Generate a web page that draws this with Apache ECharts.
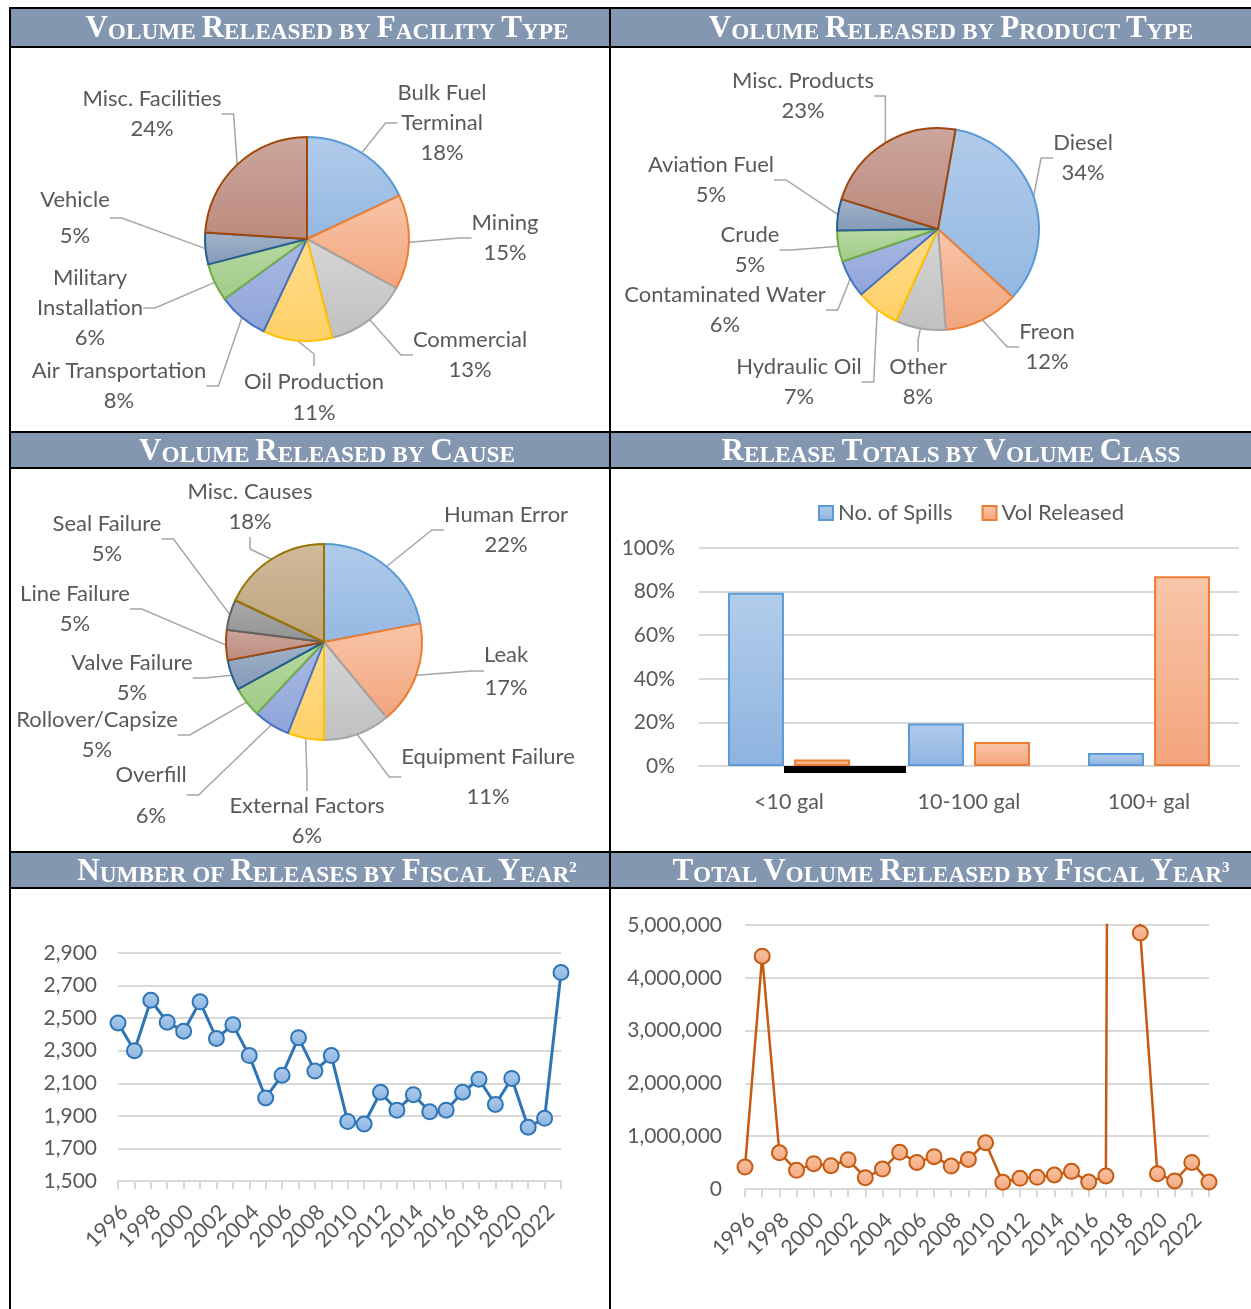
<!DOCTYPE html>
<html>
<head>
<meta charset="utf-8">
<script src="https://cdn.jsdelivr.net/npm/echarts@6/dist/echarts.min.js"></script>
<style>
  html, body { margin: 0; padding: 0; background: #fff; }
  #main { width: 1251px; height: 1309px; }
</style>
</head>
<body>
<div id="main"></div>
<script>
// ---- data ----
const facilityNames = ['Bulk Fuel Terminal', 'Mining', 'Commercial', 'Oil Production', 'Air Transportation', 'Military Installation', 'Vehicle', 'Misc. Facilities'];
const facilityShares = [18, 15, 13, 11, 8, 6, 5, 24];

const productNames = ['Diesel', 'Freon', 'Other', 'Hydraulic Oil', 'Contaminated Water', 'Crude', 'Aviation Fuel', 'Misc. Products'];
const productShares = [34, 12, 8, 7, 6, 5, 5, 23];

const causeNames = ['Human Error', 'Leak', 'Equipment Failure', 'External Factors', 'Overfill', 'Rollover/Capsize', 'Valve Failure', 'Line Failure', 'Seal Failure', 'Misc. Causes'];
const causeShares = [22, 17, 11, 6, 6, 5, 5, 5, 5, 18];

const volumeClasses = ['<10 gal', '10-100 gal', '100+ gal'];
const spillShare = [79.5, 19.5, 6];
const volumeShare = [3, 11, 87];

const fiscalYears = ['1996', '1997', '1998', '1999', '2000', '2001', '2002', '2003', '2004', '2005', '2006', '2007', '2008', '2009',
  '2010', '2011', '2012', '2013', '2014', '2015', '2016', '2017', '2018', '2019', '2020', '2021', '2022', '2023'];
const releaseCounts = [2470, 2300, 2610, 2475, 2420, 2600, 2375, 2460, 2270, 2010, 2150, 2380, 2175, 2270,
  1865, 1850, 2045, 1935, 2030, 1925, 1935, 2045, 2125, 1970, 2130, 1830, 1885, 2780];
const volumeReleased = [416000, 4410000, 687000, 353000, 479000, 441000, 555000, 214000, 378000, 694000, 504000, 612000, 435000, 561000,
  876000, 126000, 202000, 221000, 265000, 334000, 132000, 246000, 80000000, 4850000, 290000, 151000, 504000, 132000];

const headers = [
  ['Volume Released by Facility Type', ''],
  ['Volume Released by Product Type', ''],
  ['Volume Released by Cause', ''],
  ['Release Totals by Volume Class', ''],
  ['Number of Releases by Fiscal Year', '2'],
  ['Total Volume Released by Fiscal Year', '3']
];

// ---- layout (pixels) ----
const headerAt = [[327, 44], [951, 44], [327, 467], [951, 467], [327, 887], [951, 887]];
const facilityLabelAt = [[442, 123], [505, 238], [470, 355], [314, 397], [119, 386], [90, 308], [75, 218], [152, 114]];
const productLabelAt = [[1083, 158], [1047, 347], [918, 382], [799, 382], [725, 310], [750, 250], [711, 180], [803, 96]];
const causeLabelAt = [[506, 530], [506, 671], [488, 777], [307, 821], [151, 795], [97, 735], [132, 678], [75, 609], [107, 539], [250, 507]];
const wrapNames = { 'Bulk Fuel Terminal': 'Bulk Fuel\nTerminal', 'Military Installation': 'Military\nInstallation' };
// a few labels sit with a wider gap between name and percent
const labelLineHeight = { 'Vehicle': 36, 'Equipment Failure': 40, 'Overfill': 41, 'Leak': 33, 'Oil Production': 31 };

const FONT = 'Lato';
const TXT = '#595959';
const GRID = '#D9D9D9';

// office palette: border, gradient top, gradient bottom
const pal = [
  ['#5B9BD5', '#B1CBEA', '#94B8E2'],
  ['#ED7D31', '#F8C5A8', '#F2A57E'],
  ['#A5A5A5', '#D6D6D6', '#C0C0C0'],
  ['#FFC000', '#FFDC8C', '#FFD066'],
  ['#4472C4', '#AAB9E1', '#8FA5DA'],
  ['#70AD47', '#B7D8A1', '#A0CB88'],
  ['#255E91', '#A2B4CA', '#8599B6'],
  ['#9E480E', '#CCA69D', '#BC8A7D'],
  ['#636363', '#AAAAAA', '#939393'],
  ['#997300', '#CFBA9A', '#C0A57E']
];
const grad = (a, b) => new echarts.graphic.LinearGradient(0, 0, 0, 1, [{ offset: 0, color: a }, { offset: 1, color: b }]);

function pieSeries(names, shares, center, radius, startAngle, labelAt) {
  return {
    type: 'pie',
    center: center,
    radius: radius,
    startAngle: startAngle,
    avoidLabelOverlap: false,
    silent: true,
    data: names.map((n, i) => ({
      name: n,
      value: shares[i],
      itemStyle: { color: grad(pal[i][1], pal[i][2]), borderColor: pal[i][0], borderWidth: 2 },
      label: { lineHeight: labelLineHeight[n] || 30 }
    })),
    label: {
      show: true, position: 'outside', color: TXT, fontFamily: FONT, fontSize: 22, lineHeight: 30,
      overflow: 'none', edgeDistance: 0,
      formatter: p => (wrapNames[p.name] || p.name) + '\n' + Math.round(p.percent) + '%'
    },
    labelLine: { show: true, length: 10, length2: 12, lineStyle: { color: '#A6A6A6', width: 1.5 } },
    labelLayout: p => ({ x: labelAt[p.dataIndex][0], y: labelAt[p.dataIndex][1], align: 'center', verticalAlign: 'middle' })
  };
}

function capsRich(str, sup) {
  let out = '';
  str.split(' ').forEach((w, i) => {
    if (i) out += '{s| }';
    if (w[0] === w[0].toUpperCase()) {
      out += '{b|' + w[0] + '}';
      if (w.length > 1) out += '{s|' + w.slice(1).toUpperCase() + '}';
    } else {
      out += '{s|' + w.toUpperCase() + '}';
    }
  });
  if (sup) out += '{p|' + sup + '}';
  return out;
}

const serif = 'Liberation Serif';
const richCaps = {
  b: { fill: '#fff', fontFamily: serif, fontWeight: 'bold', fontSize: 31, lineHeight: 26, verticalAlign: 'bottom' },
  s: { fill: '#fff', fontFamily: serif, fontWeight: 'bold', fontSize: 23.3, lineHeight: 26, verticalAlign: 'bottom' },
  p: { fill: '#fff', fontFamily: serif, fontWeight: 'bold', fontSize: 15, lineHeight: 26, verticalAlign: 'top' }
};

const graphics = [];
[[9, 37], [433, 34], [853, 34]].forEach(([y, h]) => {
  graphics.push({ type: 'rect', z: 1, shape: { x: 10, y: y, width: 1241, height: h }, style: { fill: '#8497B0' } });
});
[8, 47, 432, 468, 852, 888].forEach(y => {
  graphics.push({ type: 'line', z: 5, shape: { x1: 9, y1: y, x2: 1251, y2: y }, style: { stroke: '#000', lineWidth: 2 } });
});
[10, 610].forEach(x => {
  graphics.push({ type: 'line', z: 5, shape: { x1: x, y1: 7, x2: x, y2: 1309 }, style: { stroke: '#000', lineWidth: 2 } });
});
headers.forEach((h, i) => {
  graphics.push({
    type: 'text', z: 6, x: headerAt[i][0], y: headerAt[i][1],
    style: { text: capsRich(h[0], h[1]), rich: richCaps, align: 'center', verticalAlign: 'bottom', fill: '#fff' }
  });
});
// stray dark bar under the first volume class in the source figure
graphics.push({ type: 'rect', z: 6, shape: { x: 784, y: 766, width: 122, height: 7 }, style: { fill: '#000' } });

const chart = echarts.init(document.getElementById('main'), null, { renderer: 'canvas' });

const yearAxis = (gridIndex) => ({
  gridIndex: gridIndex, type: 'category', data: fiscalYears, boundaryGap: false,
  axisLine: { lineStyle: { color: GRID, width: 2 } },
  axisTick: { show: true, interval: 0, length: 8, lineStyle: { color: GRID, width: 2 } },
  axisLabel: { interval: 1, rotate: 45, margin: 34, padding: [0, -9, 0, 0], color: TXT, fontFamily: FONT, fontSize: 21.5 }
});

chart.setOption({
  animation: false,
  textStyle: { fontFamily: FONT },
  graphic: { elements: graphics },
  legend: {
    data: ['No. of Spills', 'Vol Released'],
    left: 813, top: 497, itemWidth: 14, itemHeight: 14, itemGap: 29, icon: 'rect',
    selectedMode: false,
    textStyle: { color: TXT, fontSize: 22, fontFamily: FONT }
  },
  grid: [
    { left: 699, top: 548, width: 540, height: 218, outerBoundsMode: 'none' },
    { left: 118, top: 953, width: 443, height: 228, outerBoundsMode: 'none' },
    { left: 745, top: 925, width: 464, height: 264, outerBoundsMode: 'none' }
  ],
  xAxis: [
    {
      gridIndex: 0, type: 'category', data: volumeClasses,
      axisLine: { lineStyle: { color: GRID, width: 2 } },
      axisTick: { show: false },
      axisLabel: { color: TXT, fontFamily: FONT, fontSize: 21.5, margin: 25 }
    },
    yearAxis(1),
    yearAxis(2)
  ],
  yAxis: [
    {
      gridIndex: 0, type: 'value', min: 0, max: 100, interval: 20,
      axisLine: { show: false }, axisTick: { show: false },
      splitLine: { lineStyle: { color: GRID, width: 2 } },
      axisLabel: { formatter: '{value}%', color: TXT, fontFamily: FONT, fontSize: 21, margin: 24 }
    },
    {
      gridIndex: 1, type: 'value', min: 1500, max: 2900, interval: 200,
      axisLine: { show: false }, axisTick: { show: false },
      splitLine: { lineStyle: { color: GRID, width: 2 } },
      axisLabel: { formatter: v => v.toLocaleString('en-US'), color: TXT, fontFamily: FONT, fontSize: 21, margin: 21 }
    },
    {
      gridIndex: 2, type: 'value', min: 0, max: 5000000, interval: 1000000,
      axisLine: { show: false }, axisTick: { show: false },
      splitLine: { lineStyle: { color: GRID, width: 2 } },
      axisLabel: { formatter: v => v.toLocaleString('en-US'), color: TXT, fontFamily: FONT, fontSize: 21, margin: 23 }
    }
  ],
  series: [
    pieSeries(facilityNames, facilityShares, [307, 239], 102, 90, facilityLabelAt),
    pieSeries(productNames, productShares, [938, 229], 101, 80, productLabelAt),
    pieSeries(causeNames, causeShares, [324, 642], 98, 90, causeLabelAt),
    {
      name: 'No. of Spills', type: 'bar', xAxisIndex: 0, yAxisIndex: 0, data: spillShare,
      barWidth: 56, barGap: '18%', silent: true,
      itemStyle: { color: grad('#B3CDEB', '#8EB3E0'), borderColor: '#5B9BD5', borderWidth: 2 }
    },
    {
      name: 'Vol Released', type: 'bar', xAxisIndex: 0, yAxisIndex: 0, data: volumeShare,
      barWidth: 56, silent: true,
      itemStyle: { color: grad('#F8C6A9', '#F3A47C'), borderColor: '#ED7D31', borderWidth: 2 }
    },
    {
      name: 'Releases', type: 'line', xAxisIndex: 1, yAxisIndex: 1, data: releaseCounts,
      symbol: 'circle', symbolSize: 15, showAllSymbol: true, silent: true,
      lineStyle: { color: '#2E75B6', width: 3 },
      itemStyle: { color: grad('#AECBEB', '#8CB5E2'), borderColor: '#2E75B6', borderWidth: 2 }
    },
    {
      name: 'Volume', type: 'line', xAxisIndex: 2, yAxisIndex: 2, data: volumeReleased,
      symbol: 'circle', symbolSize: 15, showAllSymbol: true, silent: true, clip: true,
      lineStyle: { color: '#C55A11', width: 2.5 },
      itemStyle: { color: grad('#F8C4A4', '#F3A77E'), borderColor: '#C55A11', borderWidth: 2 }
    }
  ]
});
</script>
</body>
</html>
